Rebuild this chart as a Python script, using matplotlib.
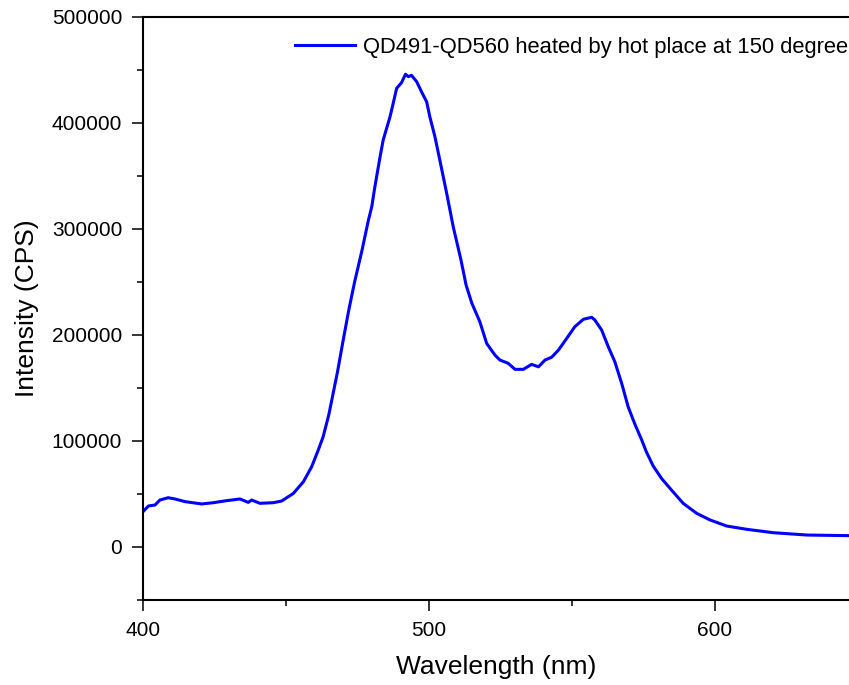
import matplotlib
matplotlib.use('Agg')
import matplotlib.pyplot as plt

# PL spectrum (nm, CPS)
wavelength = [400.0, 401.9, 404.2, 405.9, 408.8, 411.2, 414.7, 420.5, 424.6, 429.2,
              433.9, 436.8, 438.0, 440.9, 445.6, 448.5, 452.6, 456.1, 459.0, 461.3,
              463.0, 465.0, 468.0, 470.0, 472.0, 474.0, 476.6, 478.8, 480.0, 481.1,
              482.9, 484.0, 486.4, 487.5, 488.7, 490.4, 491.8, 492.8, 493.9, 495.7,
              497.4, 499.2, 500.3, 502.1, 503.8, 506.2, 508.5, 511.2, 513.0, 515.0,
              517.8, 520.2, 523.1, 524.8, 527.7, 530.1, 533.0, 535.9, 538.3, 540.6,
              542.9, 545.3, 548.2, 551.0, 554.0, 556.9, 558.0, 560.4, 562.7, 565.0,
              567.4, 569.7, 572.0, 574.4, 576.0, 578.4, 581.3, 584.8, 588.9, 593.6,
              598.3, 604.1, 611.1, 620.4, 632.1, 646.9]
intensity = [33300, 38700, 39600, 44300, 46500, 45300, 42800, 40600, 41800, 43700,
             45300, 42100, 44300, 41200, 41800, 43400, 50600, 61600, 75800, 91500,
             104000, 125000, 165000, 195000, 224000, 250000, 280000, 308000, 321000, 340000,
             368000, 384000, 406000, 418600, 432700, 438000, 446000, 443700, 445000, 439000,
             429500, 420000, 406000, 387000, 365000, 333700, 302000, 270800, 247000, 230000,
             212500, 192000, 181000, 176400, 173300, 167600, 167600, 172300, 170000, 176400,
             179000, 185800, 196900, 207800, 214800, 216700, 214200, 204700, 189000, 174800,
             154400, 132000, 116000, 101000, 90000, 76500, 64800, 53800, 41200, 31800,
             25500, 19800, 16700, 13500, 11300, 10700]

series_label = 'QD491-QD560 heated by hot place at 150 degree'
x_ticks = [400, 500, 600]
y_ticks = [0, 100000, 200000, 300000, 400000, 500000]

plt.rcParams['font.family'] = ['Liberation Sans', 'DejaVu Sans']

fig = plt.figure(figsize=(8.49, 6.85), dpi=100)
ax = fig.add_axes([143 / 849, 85 / 685, 706 / 849, 583 / 685])

ax.plot(wavelength, intensity, color='#0000FF', lw=2.2, label=series_label)

ax.set_xlim(400, 646.9)
ax.set_ylim(-50000, 500000)
ax.set_xticks(x_ticks)
ax.set_xticks([450, 550], minor=True)
ax.set_yticks(y_ticks)
ax.set_yticks([-50000, 50000, 150000, 250000, 350000, 450000], minor=True)
ax.set_yticklabels([str(v) for v in y_ticks])

ax.spines['right'].set_visible(False)
for s in ['left', 'bottom', 'top']:
    ax.spines[s].set_linewidth(1.5)

ax.tick_params(which='major', length=8, width=1.1, labelsize=15, pad=7, direction='out')
ax.tick_params(which='minor', length=4.5, width=1.1, direction='out')
ax.tick_params(top=False, right=False, which='both')

ax.set_xlabel('Wavelength (nm)', fontsize=19, labelpad=11)
ax.set_ylabel('Intensity (CPS)', fontsize=19, labelpad=9)

ax.legend(loc='center left', bbox_to_anchor=(295 / 849, 1 - 47 / 685),
          bbox_transform=fig.transFigure, frameon=False, fontsize=15.8,
          borderpad=0, borderaxespad=0, handlelength=2.75, handletextpad=0.33)

fig.savefig('out.png', dpi=100)
